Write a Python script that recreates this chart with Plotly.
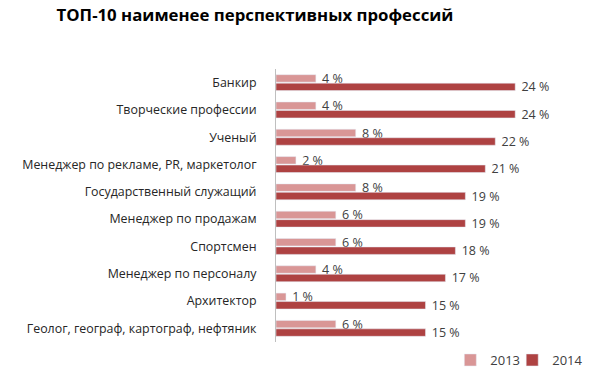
import plotly.graph_objects as go

categories = [
    "Банкир",
    "Творческие профессии",
    "Ученый",
    "Менеджер по рекламе, PR, маркетолог",
    "Государственный служащий",
    "Менеджер по продажам",
    "Спортсмен",
    "Менеджер по персоналу",
    "Архитектор",
    "Геолог, географ, картограф, нефтяник",
]
values_2013 = [4, 4, 8, 2, 8, 6, 6, 4, 1, 6]
values_2014 = [24, 24, 22, 21, 19, 19, 18, 17, 15, 15]
series_names = ["2013", "2014"]
title_text = "ТОП-10 наименее перспективных профессий"

common_text = dict(
    texttemplate="\u00a0%{x}\u00a0%", textposition="outside",
    textfont=dict(color="#404040", size=12.5, family="Open Sans"),
    cliponaxis=False, constraintext="none",
)

fig = go.Figure()
fig.add_trace(go.Bar(
    y=categories, x=values_2013, name=series_names[0], orientation="h",
    marker=dict(color="#D99696"), legend="legend", **common_text,
))
fig.add_trace(go.Bar(
    y=categories, x=values_2014, name=series_names[1], orientation="h",
    marker=dict(color="#AE4242"), legend="legend2", **common_text,
))

legend_style = dict(font=dict(size=13, color="#404040"), itemwidth=30,
                    yanchor="middle", y=-0.066, xanchor="left",
                    bgcolor="rgba(0,0,0,0)")

fig.update_layout(
    width=600, height=389,
    paper_bgcolor="white", plot_bgcolor="white",
    barmode="group", bargap=0.38, bargroupgap=0.12,
    margin=dict(l=276, r=25, t=69, b=47, autoexpand=False),
    font=dict(family="Open Sans", color="#404040", size=12),
    title=dict(text="<b>" + title_text + "</b>", x=0.425, xref="container", xanchor="center",
               y=0.96, yref="container", yanchor="middle",
               font=dict(size=16.8, color="#000000", family="Open Sans")),
    xaxis=dict(range=[0, 30], showgrid=False, zeroline=False, showticklabels=False,
               showline=False, fixedrange=True, automargin=False),
    yaxis=dict(categoryorder="array", categoryarray=categories, autorange="reversed",
               showline=True, linecolor="#BFBFBF", linewidth=1, ticks="",
               ticklabelstandoff=16, automargin=False,
               tickfont=dict(size=12.4, color="#262626", family="Open Sans"),
               showgrid=False),
    legend=dict(x=0.583, **legend_style),
    legend2=dict(x=0.79, **legend_style),
    showlegend=True,
    hovermode=False,
)

fig.write_html("out.html", post_script="document.body.style.margin='0';",
               config={"displayModeBar": False, "staticPlot": True})
